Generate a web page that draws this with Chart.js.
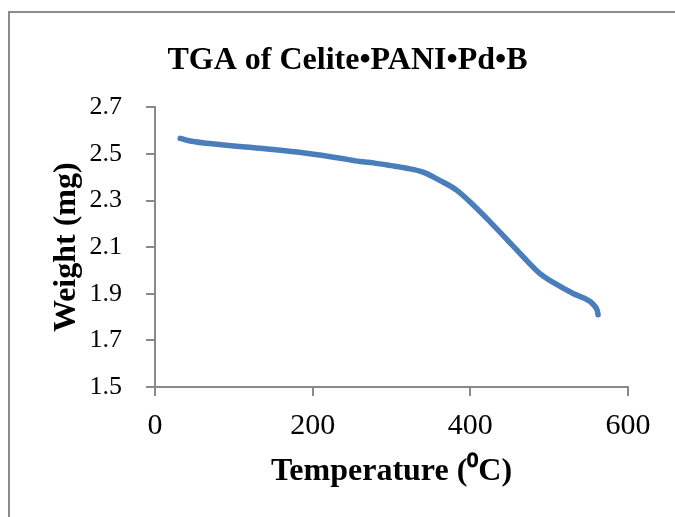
<!DOCTYPE html>
<html lang="en">
<head>
    <meta charset="UTF-8">
    <title>TGA of Celite•PANI•Pd•B</title>
    <script src="https://cdn.jsdelivr.net/npm/chart.js"></script>
    <style>
        body { margin: 0; overflow: hidden; background: #fff; }
        .frame { position: absolute; left: 8px; top: 11px; width: 720px; height: 620px; border: 2px solid #8c8c8c; }
        .chart-box { position: absolute; left: 0; top: 0; width: 695px; height: 517px; }
    </style>
</head>
<body>
    <div class="frame"></div>
    <div class="chart-box"><canvas id="tgaChart"></canvas></div>
    <script>
        // Temperature (°C) and weight (mg)
        const temperatures = [32, 43, 66, 108, 150, 192, 235, 260, 277, 300, 319, 340, 361, 383, 404, 425, 446, 467, 488, 510, 531, 552, 558, 561, 562];
        const weights = [2.567, 2.557, 2.546, 2.532, 2.519, 2.503, 2.482, 2.468, 2.462, 2.450, 2.439, 2.422, 2.387, 2.344, 2.280, 2.209, 2.135, 2.059, 1.988, 1.939, 1.900, 1.867, 1.846, 1.828, 1.810];
        const xTicks = [0, 200, 400, 600];
        const yTicks = [1.5, 1.7, 1.9, 2.1, 2.3, 2.5, 2.7];

        const serif = "'Liberation Serif', 'Times New Roman', serif";
        const axisGrey = '#898989';

        new Chart(document.getElementById('tgaChart'), {
            type: 'line',
            data: {
                datasets: [{
                    label: 'Weight',
                    data: temperatures.map((t, i) => ({ x: t, y: weights[i] })),
                    borderColor: '#4a7ebb',
                    borderWidth: 5.5,
                    pointRadius: 0,
                    cubicInterpolationMode: 'monotone',
                    borderCapStyle: 'round',
                    borderJoinStyle: 'round',
                    fill: false
                }]
            },
            options: {
                responsive: true,
                maintainAspectRatio: false,
                animation: false,
                layout: { padding: { top: 0, right: 0, bottom: 29, left: 0 } },
                plugins: {
                    legend: { display: false },
                    tooltip: { enabled: false },
                    title: {
                        display: true,
                        text: 'TGA of Celite•PANI•Pd•B',
                        color: '#000',
                        font: { family: serif, size: 32, weight: 'bold' },
                        padding: { top: 42, bottom: 27 }
                    }
                },
                scales: {
                    x: {
                        type: 'linear',
                        min: xTicks[0],
                        max: xTicks[xTicks.length - 1],
                        afterBuildTicks: s => { s.ticks = xTicks.map(v => ({ value: v })); },
                        afterFit: s => { s.paddingRight = 67; },
                        grid: { drawOnChartArea: false, drawTicks: true, tickLength: 9, color: axisGrey, lineWidth: 2 },
                        border: { color: axisGrey, width: 2 },
                        ticks: { color: '#000', font: { family: serif, size: 30, lineHeight: 1 }, padding: 15 },
                        title: {
                            display: true,
                            text: 'Temperature (⁰C)',
                            color: '#000',
                            font: { family: serif, size: 32, weight: 'bold', lineHeight: 1 },
                            padding: { top: 0, bottom: 0 }
                        }
                    },
                    y: {
                        min: yTicks[0],
                        max: yTicks[yTicks.length - 1],
                        afterBuildTicks: s => { s.ticks = yTicks.map(v => ({ value: v })); },
                        afterFit: s => { s.width = 155; },
                        grid: { drawOnChartArea: false, drawTicks: true, tickLength: 9, color: axisGrey, lineWidth: 2 },
                        border: { color: axisGrey, width: 2 },
                        ticks: { color: '#000', font: { family: serif, size: 26 }, padding: 24, callback: v => v.toFixed(1) },
                        title: {
                            display: true,
                            text: 'Weight (mg)',
                            color: '#000',
                            font: { family: serif, size: 32, weight: 'bold' },
                            padding: { top: 48, bottom: 0 }
                        }
                    }
                }
            }
        });
    </script>
</body>
</html>
